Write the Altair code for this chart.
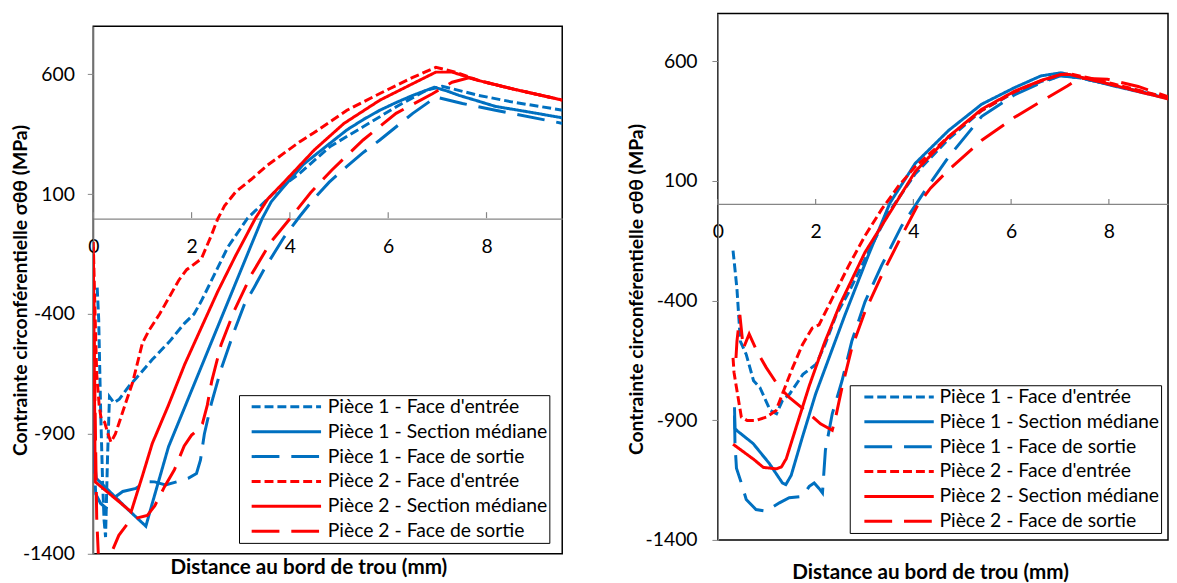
import altair as alt
import pandas as pd

SERIES = ["Pièce 1 - Face d'entrée", "Pièce 1 - Section médiane", "Pièce 1 - Face de sortie",
          "Pièce 2 - Face d'entrée", "Pièce 2 - Section médiane", "Pièce 2 - Face de sortie"]
COLORS = ["#0070C0", "#0070C0", "#0070C0", "#FF0000", "#FF0000", "#FF0000"]
DASHES = [[9, 4], [1, 0], [28, 12], [9, 4], [1, 0], [28, 12]]
Y_TICKS = [-1400, -900, -400, 100, 600]
X_TICKS = [0, 2, 4, 6, 8]
Y_TITLE = "Contrainte circonférentielle  σθθ (MPa)"
X_TITLE = "Distance au bord de trou (mm)"

# ---------------- left panel ----------------
L_P1E_X = [0.08, 0.11, 0.15, 0.19, 0.22, 0.25, 0.29, 0.33, 0.42, 0.53, 0.73, 0.95, 1.20, 1.55, 1.85, 2.05, 2.20, 2.40, 2.74, 3.14, 3.68, 4.21, 4.82, 5.49, 6.16, 6.77, 7.10, 7.84, 8.51, 9.55]
L_P1E_Y = [-290, -420, -800, -1100, -1260, -1330, -1000, -745, -770, -755, -700, -650, -590, -515, -440, -400, -345, -262, -120, 0, 106, 189, 299, 381, 464, 533, 550, 512, 485, 450]
L_P1M_X = [0.00, 0.02, 0.06, 0.72, 1.07, 1.20, 1.53, 1.86, 2.20, 2.53, 2.87, 3.20, 3.44, 3.62, 3.85, 4.28, 4.82, 5.16, 5.50, 5.83, 6.16, 6.50, 6.94, 7.20, 7.44, 7.80, 8.18, 8.80, 9.55]
L_P1M_Y = [-780, -1000, -1085, -1218, -1285, -1190, -954, -789, -619, -454, -284, -119, 0, 68, 125, 225, 313, 368, 412, 450, 482, 512, 546, 530, 512, 490, 466, 445, 418]
L_P1S_X = [0.00, 0.05, 0.15, 0.26, 0.40, 0.60, 0.87, 1.07, 1.25, 1.47, 1.70, 1.93, 2.10, 2.18, 2.26, 2.40, 2.60, 2.87, 3.07, 3.27, 3.47, 3.88, 4.21, 4.48, 4.80, 5.16, 5.50, 5.83, 6.50, 6.97, 7.51, 8.18, 9.55]
L_P1S_Y = [-950, -1150, -1190, -1209, -1170, -1140, -1127, -1099, -1100, -1113, -1100, -1085, -1065, -1010, -900, -775, -630, -470, -362, -290, -215, -80, 10, 79, 150, 216, 275, 326, 437, 505, 478, 450, 395]
L_P2E_X = [0.00, 0.03, 0.07, 0.12, 0.16, 0.23, 0.30, 0.36, 0.45, 0.53, 0.66, 0.80, 1.00, 1.14, 1.35, 1.53, 1.74, 1.90, 2.00, 2.20, 2.40, 2.53, 2.67, 2.90, 3.21, 3.54, 3.88, 4.21, 4.48, 5.16, 5.83, 6.50, 6.97, 7.37, 7.84, 8.51, 9.55]
L_P2E_Y = [-100, -350, -650, -780, -837, -851, -900, -934, -900, -851, -770, -686, -521, -466, -400, -335, -259, -215, -200, -169, -73, -4, 51, 110, 161, 220, 271, 320, 355, 450, 520, 587, 629, 609, 574, 540, 492]
L_P2M_X = [0.00, 0.02, 0.04, 0.77, 1.00, 1.20, 1.53, 1.86, 2.20, 2.53, 2.90, 3.30, 3.55, 3.88, 4.50, 5.10, 5.83, 6.50, 6.97, 7.30, 7.84, 8.51, 9.55]
L_P2M_Y = [-120, -600, -1100, -1225, -1075, -940, -780, -610, -456, -307, -155, 0, 80, 150, 285, 395, 492, 561, 609, 609, 574, 540, 492]
L_P2S_X = [0.00, 0.03, 0.07, 0.12, 0.25, 0.36, 0.52, 0.72, 0.90, 1.10, 1.25, 1.45, 1.65, 1.85, 2.00, 2.14, 2.22, 2.32, 2.41, 2.60, 2.87, 3.21, 3.61, 4.01, 4.42, 4.85, 5.49, 6.16, 6.90, 7.30, 7.64, 7.84, 8.51, 9.55]
L_P2S_Y = [-150, -700, -1250, -1480, -1500, -1400, -1323, -1268, -1250, -1240, -1200, -1120, -1050, -950, -905, -880, -858, -780, -680, -528, -385, -238, -100, 0, 106, 200, 326, 437, 519, 567, 585, 574, 540, 492]

# ---------------- right panel ----------------
R_P1E_X = [0.31, 0.35, 0.39, 0.46, 0.58, 0.73, 0.86, 1.07, 1.20, 1.32, 1.47, 1.74, 2.01, 2.20, 2.42, 2.68, 3.08, 3.49, 4.04, 4.72, 5.40, 6.07, 6.61, 7.02, 7.42, 8.10, 9.40]
R_P1E_Y = [-191, -270, -351, -570, -625, -735, -763, -859, -873, -818, -790, -708, -666, -580, -460, -364, -198, -33, 130, 275, 395, 470, 515, 540, 530, 500, 438]
R_P1M_X = [0.34, 0.35, 0.40, 0.72, 1.05, 1.32, 1.39, 1.50, 1.73, 2.00, 2.30, 2.60, 3.08, 3.52, 4.04, 4.72, 5.40, 6.07, 6.61, 7.02, 7.42, 8.10, 9.40]
R_P1M_Y = [-846, -935, -945, -997, -1080, -1162, -1169, -1130, -970, -790, -625, -460, -210, 8, 174, 311, 421, 490, 539, 552, 532, 497, 436]
R_P1S_X = [0.34, 0.35, 0.38, 0.48, 0.58, 0.78, 0.99, 1.26, 1.46, 1.73, 1.87, 1.97, 2.07, 2.14, 2.20, 2.34, 2.54, 2.74, 3.01, 3.35, 3.76, 4.24, 4.72, 5.40, 6.07, 6.61, 7.02, 7.42, 8.10, 9.40]
R_P1S_Y = [-880, -1000, -1100, -1162, -1231, -1273, -1280, -1245, -1224, -1218, -1176, -1162, -1185, -1204, -1025, -873, -735, -570, -405, -253, -88, 60, 200, 370, 460, 510, 540, 530, 500, 438]
R_P2E_X = [0.31, 0.33, 0.38, 0.48, 0.60, 0.78, 0.99, 1.19, 1.32, 1.53, 1.73, 1.93, 2.07, 2.34, 2.68, 3.01, 3.35, 3.70, 4.04, 4.72, 5.40, 6.07, 6.61, 7.02, 7.20, 7.60, 8.10, 9.40]
R_P2E_Y = [-639, -700, -763, -887, -901, -901, -887, -859, -790, -680, -584, -515, -501, -391, -253, -129, -19, 80, 160, 285, 395, 472, 518, 545, 548, 530, 505, 438]
R_P2M_X = [0.31, 0.73, 0.93, 1.20, 1.30, 1.40, 1.60, 1.87, 2.18, 2.50, 3.01, 3.56, 4.04, 4.72, 5.40, 6.07, 6.61, 7.02, 7.20, 8.10, 9.40]
R_P2M_Y = [-1000, -1063, -1097, -1103, -1095, -1060, -930, -756, -577, -415, -198, -19, 140, 285, 400, 475, 520, 545, 545, 500, 433]
R_P2S_X = [0.37, 0.39, 0.45, 0.52, 0.64, 0.80, 0.99, 1.26, 1.46, 1.87, 2.10, 2.34, 2.41, 2.54, 2.74, 3.01, 3.35, 3.76, 4.08, 4.35, 4.72, 5.40, 6.07, 6.75, 7.15, 7.40, 7.97, 8.60, 9.40]
R_P2S_Y = [-640, -570, -460, -600, -540, -612, -680, -763, -804, -873, -915, -942, -887, -763, -598, -446, -295, -129, -5, 70, 146, 270, 366, 449, 497, 530, 525, 495, 438]

FONT = "Lato, 'DejaVu Sans', sans-serif"
GRAY = "#868686"


def long_df(pairs):
    rows = []
    for name, (xs, ys) in zip(SERIES, pairs):
        for i, (x, y) in enumerate(zip(xs, ys)):
            rows.append({"series": name, "x": x, "y": y, "i": i})
    return pd.DataFrame(rows)


def panel(pairs, xmax, W, H, y0px, lab_pad_x, tx, ty, ytx, yty, lab_pad_y, legx, legy, sym_off, lab_off):
    df = long_df(pairs)
    xscale = alt.Scale(domain=[0, xmax], nice=False, zero=False)
    yscale = alt.Scale(domain=[-1400, 800], nice=False, zero=False)
    xaxis = alt.Axis(
        values=X_TICKS, offset=-(H - y0px), domainColor=GRAY, domainWidth=1.2,
        ticks=False, tickSize=0, labelPadding=lab_pad_x, labelFlush=False,
        labelFont=FONT, labelFontSize=19.5, labelColor="black", grid=False,
        labelExpr="'' + datum.value",
        title=X_TITLE, titleFont=FONT, titleFontSize=20.8, titleFontWeight="bold",
        titleColor="black", titleX=tx, titleY=ty, titleBaseline="middle", titleAlign="center")
    yaxis = alt.Axis(
        values=Y_TICKS, domainColor=GRAY, domainWidth=1.2, tickColor=GRAY, tickSize=6,
        labelPadding=lab_pad_y, labelFont=FONT, labelFontSize=19.5, labelColor="black",
        labelExpr="'' + datum.value",
        grid=False, title=Y_TITLE, titleFont=FONT, titleFontSize=19.5,
        titleFontWeight="bold", titleColor="black", titleX=ytx, titleY=yty,
        titleBaseline="middle", titleAlign="center")
    legend = alt.Legend(
        orient="none", legendX=legx, legendY=legy, title=None,
        symbolType="M-5,0H5", symbolSize=196, symbolStrokeWidth=3,
        symbolOffset=sym_off, labelOffset=lab_off,
        labelFont=FONT, labelFontSize=19.5, labelColor="black", labelLimit=400,
        rowPadding=4.1, padding=2, strokeColor="black", fillColor="white",
    )
    lines = alt.Chart(df).mark_line(strokeWidth=3, clip=True, strokeCap="butt").encode(
        x=alt.X("x:Q", scale=xscale, axis=xaxis),
        y=alt.Y("y:Q", scale=yscale, axis=yaxis),
        color=alt.Color("series:N", scale=alt.Scale(domain=SERIES, range=COLORS), legend=legend),
        strokeDash=alt.StrokeDash("series:N", scale=alt.Scale(domain=SERIES, range=DASHES), legend=legend),
        order=alt.Order("i:Q"),
    )
    tick_len = 6 * 2200.0 / H
    tdf = pd.DataFrame({"x": X_TICKS, "y": [0] * len(X_TICKS), "y2": [tick_len] * len(X_TICKS)})
    ticks = alt.Chart(tdf).mark_rule(color=GRAY, strokeWidth=1.2).encode(
        x=alt.X("x:Q", scale=xscale, axis=xaxis),
        y=alt.Y("y:Q", scale=yscale, axis=yaxis),
        y2="y2:Q",
    )
    return alt.layer(lines, ticks).properties(width=W, height=H)


def spacer(W, h):
    sdf = pd.DataFrame({"v": [0]})
    return alt.Chart(sdf).mark_point(opacity=0).encode(
        x=alt.X("v:Q", axis=None), y=alt.Y("v:Q", axis=None)
    ).properties(width=W, height=h, view=alt.ViewBackground(stroke="transparent"))


left_pairs = [(L_P1E_X, L_P1E_Y), (L_P1M_X, L_P1M_Y), (L_P1S_X, L_P1S_Y),
              (L_P2E_X, L_P2E_Y), (L_P2M_X, L_P2M_Y), (L_P2S_X, L_P2S_Y)]
right_pairs = [(R_P1E_X, R_P1E_Y), (R_P1M_X, R_P1M_Y), (R_P1S_X, R_P1S_Y),
               (R_P2E_X, R_P2E_Y), (R_P2M_X, R_P2M_Y), (R_P2S_X, R_P2S_Y)]

left_panel = panel(left_pairs, 9.54, 473, 532, 194, 19, 217, 352, -73, 266, 13, 147, 385, 36, 32)
left = alt.vconcat(spacer(473, 11), left_panel, spacing=0).resolve_scale(
    x="independent", y="independent")
right = panel(right_pairs, 9.21, 454, 531, 192, 19, 214, 372, -82, 278, 15, 133, 375, 38, 31)

chart = alt.hconcat(left, right, spacing=63).resolve_scale(
    x="independent", y="independent", color="independent", strokeDash="independent"
).resolve_legend(color="independent", strokeDash="independent").properties(
    padding={"left": 2, "top": 2, "right": 0, "bottom": 0}
).configure(font=FONT, view=alt.ViewConfig(stroke="black", strokeWidth=1.5))

chart.save("out.html", embed_options={"renderer": "svg", "actions": False})
